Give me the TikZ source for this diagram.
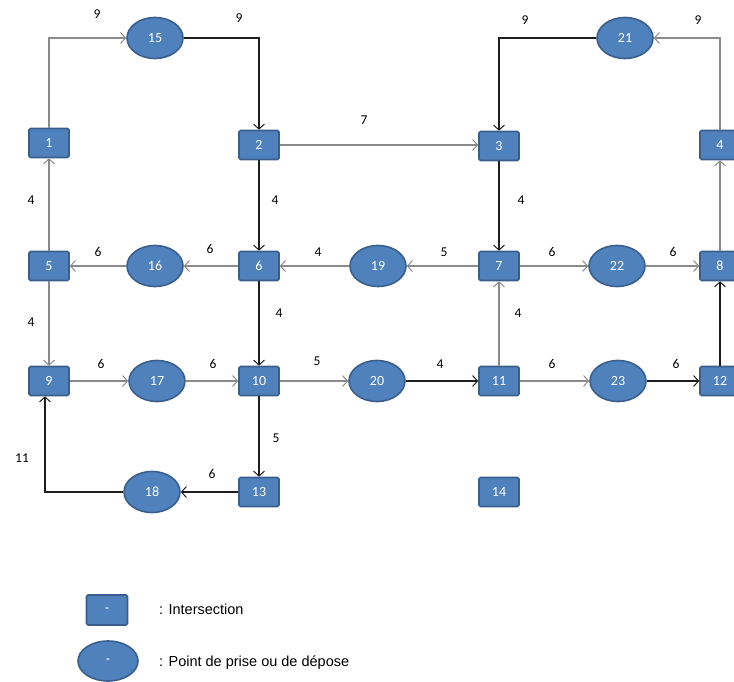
\documentclass[tikz,border=0pt]{standalone}
\usepackage{fontspec}
\setmainfont{Carlito}
\newfontfamily\legendfont{Liberation Sans}
\usetikzlibrary{arrows.meta,shapes.geometric}
\definecolor{nodefill}{HTML}{4F81BD}
\definecolor{nodeedge}{HTML}{3A5F8C}
\definecolor{lgray}{HTML}{8A8A8A}
\definecolor{ldark}{HTML}{1E1E1E}
\tikzset{
  sq/.style={draw=nodeedge, line width=1.6pt, fill=nodefill, rounded corners=1.5pt,
    minimum width=40pt, minimum height=29pt, inner sep=0pt,
    text=white, font=\fontsize{14}{16}\selectfont},
  ov/.style={ellipse, draw=nodeedge, line width=1.6pt, fill=nodefill,
    minimum width=56pt, minimum height=41pt, inner sep=0pt,
    text=white, font=\fontsize{14}{16}\selectfont},
  lbl/.style={font=\fontsize{13.5}{15}\selectfont, text=black, inner sep=0pt},
  legtxt/.style={font=\legendfont\fontsize{14.5}{16}\selectfont, anchor=west, inner sep=0pt},
  ga/.style={draw=lgray, line width=1.1pt, -{Straight Barb[length=5pt,width=11pt,line width=1pt]}},
  ba/.style={draw=ldark, line width=1.1pt, -{Straight Barb[length=5pt,width=11pt,line width=1pt]}},
}
\begin{document}
\begin{tikzpicture}[x=1pt,y=-1pt]
\useasboundingbox (0,0) rectangle (734,682);
% intersections
\node[sq] (n1) at (49,143) {1};
\node[sq] (n2) at (259,145) {2};
\node[sq] (n3) at (499,146) {3};
\node[sq] (n4) at (720,145) {4};
\node[sq] (n5) at (49,266) {5};
\node[sq] (n6) at (259,266) {6};
\node[sq] (n7) at (499,266) {7};
\node[sq] (n8) at (720,266) {8};
\node[sq] (n9) at (49,381) {9};
\node[sq] (n10) at (259,381) {10};
\node[sq] (n11) at (499,381) {11};
\node[sq] (n12) at (720,381) {12};
\node[sq] (n13) at (259,492) {13};
\node[sq] (n14) at (499,492) {14};
% pick-up points
\node[ov] (n15) at (155,38) {15};
\node[ov] (n21) at (625,38) {21};
\node[ov] (n16) at (155,266) {16};
\node[ov] (n19) at (378,266) {19};
\node[ov] (n22) at (617,266) {22};
\node[ov] (n17) at (157,381) {17};
\node[ov] (n20) at (377,381) {20};
\node[ov] (n23) at (618,381) {23};
\node[ov] (n18) at (152,492) {18};
% connectors
\draw[ga] (n1) |- (n15);
\draw[ba] (n15) -| (n2);
\draw[ba] (n21) -| (n3);
\draw[ga] (n4) |- (n21);
\draw[ga] (n2) -- (n3.west |- n2);
\draw[ba] (n2) -- (n6);
\draw[ba] (n3) -- (n7);
\draw[ga] (n5) -- (n1);
\draw[ga] (n8) -- (n4);
\draw[ga] (n6) -- (n16);
\draw[ga] (n16) -- (n5);
\draw[ga] (n19) -- (n6);
\draw[ga] (n7) -- (n19);
\draw[ga] (n7) -- (n22);
\draw[ga] (n22) -- (n8);
\draw[ga] (n5) -- (n9);
\draw[ba] (n6) -- (n10);
\draw[ga] (n11) -- (n7);
\draw[ba] (n12) -- (n8);
\draw[ga] (n9) -- (n17);
\draw[ga] (n17) -- (n10);
\draw[ga] (n10) -- (n20);
\draw[ba] (n20) -- (n11);
\draw[ga] (n11) -- (n23);
\draw[ba] (n23) -- (n12);
\draw[ba] (n10) -- (n13);
\draw[ba] (n13) -- (n18);
\draw[ba] (n18) -| ([xshift=-4pt]n9.south);
% labels
\node[lbl] (l1) at (97,14) {9};
\node[lbl] (l2) at (239,18) {9};
\node[lbl] (l3) at (525,20) {9};
\node[lbl] (l4) at (698,20) {9};
\node[lbl] (l5) at (364,120) {7};
\node[lbl] (l6) at (31,200) {4};
\node[lbl] (l7) at (275,200) {4};
\node[lbl] (l8) at (521,200) {4};
\node[lbl] (l9) at (738,200) {4};
\node[lbl] (l10) at (98,252) {6};
\node[lbl] (l11) at (210,249) {6};
\node[lbl] (l12) at (318,252) {4};
\node[lbl] (l13) at (444,252) {5};
\node[lbl] (l14) at (552,252) {6};
\node[lbl] (l15) at (673,252) {6};
\node[lbl] (l16) at (31,322) {4};
\node[lbl] (l17) at (279,313) {4};
\node[lbl] (l18) at (518,313) {4};
\node[lbl] (l19) at (101,364) {6};
\node[lbl] (l20) at (213,364) {6};
\node[lbl] (l21) at (317,361) {5};
\node[lbl] (l22) at (440,364) {4};
\node[lbl] (l23) at (552,364) {6};
\node[lbl] (l24) at (676,364) {6};
\node[lbl] (l25) at (276,438) {5};
\node[lbl] (l26) at (212,474) {6};
\node[lbl] (l27) at (22,458) {11};
% legend
\node[sq, minimum width=41pt, minimum height=30pt] (lg1) at (107,610) {-};
\node[ov, minimum width=60pt, minimum height=40pt] (lg2) at (108,661) {-};
\node[legtxt] (lt1) at (159,609) {: Intersection};
\node[legtxt] (lt2) at (159,663) {: Point de prise ou de dépose};
\end{tikzpicture}
\end{document}
